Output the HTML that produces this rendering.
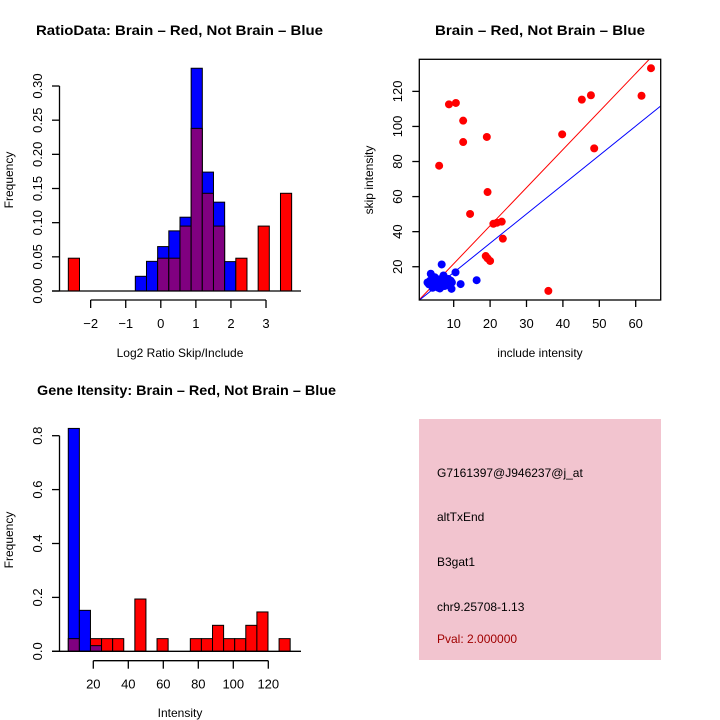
<!DOCTYPE html>
<html><head><meta charset="utf-8"><style>
html,body{margin:0;padding:0;background:#fff;}
svg{display:block;font-family:"Liberation Sans",sans-serif;}
</style></head><body>
<svg id="c" width="720" height="720" viewBox="0 0 720 720">
<rect x="0" y="0" width="720" height="720" fill="#fff"/>
<g id="p1"></g>
<g id="p2"></g>
<g id="p3"></g>
<g id="p4">
<rect x="419" y="419" width="242" height="241" fill="#f2c4cf"/>
<text x="437" y="477" font-size="12">G7161397@J946237@j_at</text>
<text x="437" y="521" font-size="12">altTxEnd</text>
<text x="437" y="566" font-size="12">B3gat1</text>
<text x="437" y="611" font-size="12">chr9.25708-1.13</text>
<text x="437" y="643" font-size="12" fill="#a00000">Pval: 2.000000</text>
</g>
</svg>
<script>
// ---------- data ----------
const ratioBinStart = -2.637;
const ratioBinWidth = 0.3184;
const ratioRed  = [0.048,0,0,0,0,0,0,0,0.048,0.048,0.095,0.238,0.143,0.095,0,0.048,0,0.095,0,0.143];
const ratioBlue = [0,0,0,0,0,0,0.0215,0.0434,0.065,0.088,0.108,0.326,0.174,0.13,0.043,0,0,0,0,0];
const ratioXTicks = [-2,-1,0,1,2,3];
const ratioYTicks = [0,0.05,0.10,0.15,0.20,0.25,0.30];
const ratioYLabels = ["0.00","0.05","0.10","0.15","0.20","0.25","0.30"];
const redX = [64.2,61.6,47.7,45.2,39.8,48.6,8.7,10.6,12.6,12.6,19.1,6.0,19.3,14.5,20.9,21.9,23.2,23.5,18.8,19.3,20.0,36.0];
const redY = [133.2,117.5,117.8,115.3,95.5,87.5,112.6,113.4,103.3,91.1,94,77.6,62.6,50.1,44.5,45.1,45.7,36,26.1,24.8,23.3,6.2];
const blueX = [3.7,6.7,10.5,11.9,16.3,9.4,6.2,3.0,7.2,5.1,4.0,4.5,5.5,6.0,7.0,7.8,8.5,9.0,9.5,4.2,5.0,6.5,7.5,8.0,3.5,4.8,5.8,6.8,7.3,8.8,9.2,3.2,4.4,5.3,6.3,7.7,8.3,2.8,5.6,6.9];
const blueY = [16.0,21.3,16.8,10.1,12.3,7.4,7.6,11,15,13.3,10,12,9,11,12,10,13,9,11,8,10,13,9,11,12,14,8,10,14,10,12,10,9,11,8,12,10,11,12,9];
const redSlope = 2.17;
const blueSlope = 1.67;
const scatXTicks = [10,20,30,40,50,60];
const scatYTicks = [20,40,60,80,100,120];
const intBinStart = 5.7;
const intBinWidth = 6.34;
const intRed  = [0.047,0,0.047,0.047,0.047,0,0.194,0,0.047,0,0,0.047,0.047,0.0964,0.047,0.047,0.0964,0.146,0,0.047];
const intBlue = [0.827,0.152,0.021,0,0,0,0,0,0,0,0,0,0,0,0,0,0,0,0,0];
const intXTicks = [20,40,60,80,100,120];
const intYTicks = [0,0.2,0.4,0.6,0.8];
const intYLabels = ["0.0","0.2","0.4","0.6","0.8"];

const NS="http://www.w3.org/2000/svg";
function mk(parent,tag,attrs,txt){const e=document.createElementNS(NS,tag);for(const k in attrs)e.setAttribute(k,attrs[k]);if(txt!==undefined)e.textContent=txt;parent.appendChild(e);return e;}

function histogram(g,opt){
  const sx=v=>opt.x0+v*opt.kx, sy=v=>opt.y0-v*opt.ky;
  const n=opt.red.length;
  for(let i=0;i<n;i++){
    const a=opt.start+i*opt.width, b=a+opt.width;
    const r=opt.red[i], bl=opt.blue[i];
    const x=sx(a), w=sx(b)-sx(a);
    const hi=Math.max(r,bl), lo=Math.min(r,bl);
    if(hi<=0) continue;
    const col = bl>=r ? "#0000ff" : "#ff0000";
    const e=mk(g,"rect",{x:x,y:sy(hi),width:w,height:sy(0)-sy(hi),fill:col,stroke:"#000","stroke-width":1});
    
    
    if(lo>0){
      const p=mk(g,"rect",{x:x,y:sy(lo),width:w,height:sy(0)-sy(lo),fill:"#800080",stroke:"#000","stroke-width":1});
      
      
    }
  }
  const bl=mk(g,"line",{x1:52,y1:opt.y0,x2:301,y2:opt.y0,stroke:"#000","stroke-width":1.3});
  
  
  const yt=opt.yTicks;
  const ya=mk(g,"line",{x1:59.5,y1:sy(yt[0]),x2:59.5,y2:sy(yt[yt.length-1]),stroke:"#000","stroke-width":1.3});
  
  
  yt.forEach((v,i)=>{
    mk(g,"line",{x1:52,y1:sy(v),x2:59.5,y2:sy(v),stroke:"#000","stroke-width":1.3});
    const t=mk(g,"text",{x:42,y:sy(v),"font-size":13,"text-anchor":"middle",transform:`rotate(-90 42 ${sy(v)})`},opt.yLabels[i]);
    
    
  });
  const xt=opt.xTicks;
  const xa=mk(g,"line",{x1:sx(xt[0]),y1:opt.xAxisY,x2:sx(xt[xt.length-1]),y2:opt.xAxisY,stroke:"#000","stroke-width":1.3});
  
  
  xt.forEach(v=>{
    mk(g,"line",{x1:sx(v),y1:opt.xAxisY,x2:sx(v),y2:opt.xAxisY+8,stroke:"#000","stroke-width":1.3});
    const t=mk(g,"text",{x:sx(v),y:opt.xAxisY+28,"font-size":13,"text-anchor":"middle"},v<0?"\u2212"+(-v):String(v));
    
    
  });
}

const g1=document.getElementById('p1');
histogram(g1,{x0:160.8,kx:35.07,y0:291,ky:683.3,start:ratioBinStart,width:ratioBinWidth,red:ratioRed,blue:ratioBlue,xTicks:ratioXTicks,yTicks:ratioYTicks,yLabels:ratioYLabels,xAxisY:300});
mk(g1,"text",{x:36,y:35,"font-size":14,"font-weight":"bold",textLength:287,lengthAdjust:"spacingAndGlyphs",},"RatioData: Brain \u2013 Red, Not Brain \u2013 Blue");
mk(g1,"text",{x:180,y:357,"font-size":12,"text-anchor":"middle",},"Log2 Ratio Skip/Include");
mk(g1,"text",{x:13,y:180,"font-size":12,"text-anchor":"middle",transform:"rotate(-90 13 180)",},"Frequency");

const g3=document.getElementById('p3');
histogram(g3,{x0:58.3,kx:1.75,y0:651.3,ky:269.5,start:intBinStart,width:intBinWidth,red:intRed,blue:intBlue,xTicks:intXTicks,yTicks:intYTicks,yLabels:intYLabels,xAxisY:660.7});
mk(g3,"text",{x:37,y:395,"font-size":14,"font-weight":"bold",textLength:299,lengthAdjust:"spacingAndGlyphs",},"Gene Itensity: Brain \u2013 Red, Not Brain \u2013 Blue");
mk(g3,"text",{x:180,y:717,"font-size":12,"text-anchor":"middle",},"Intensity");
mk(g3,"text",{x:13,y:540,"font-size":12,"text-anchor":"middle",transform:"rotate(-90 13 540)",},"Frequency");

const g2=document.getElementById('p2');
const X0=417.3,KX=3.64,Y0=301.8,KY=1.7535;
const px=v=>X0+v*KX, py=v=>Y0-v*KY;
const L=419.3,R=660.7,T=59.3,B=300;
mk(g2,"defs",{}).innerHTML='<clipPath id="sc"><rect x="419.3" y="59.3" width="241.4" height="240.7"/></clipPath>';
const lines=mk(g2,"g",{"clip-path":"url(#sc)"});
const xmin=(L-X0)/KX, xmax=(R-X0)/KX;
const rl=mk(lines,"line",{x1:px(xmin),y1:py(xmin*redSlope),x2:px(xmax),y2:py(xmax*redSlope),stroke:"#ff0000","stroke-width":1});


const bll=mk(lines,"line",{x1:px(xmin),y1:py(xmin*blueSlope),x2:px(xmax),y2:py(xmax*blueSlope),stroke:"#0000ff","stroke-width":1});


blueX.forEach((x,i)=>{
  const c=mk(lines,"circle",{cx:px(x),cy:py(blueY[i]),r:4,fill:"#0000ff"});
  
  
});
redX.forEach((x,i)=>{
  const c=mk(g2,"circle",{cx:px(x),cy:py(redY[i]),r:4,fill:"#ff0000"});
  
  
});
mk(g2,"rect",{x:L,y:T,width:R-L,height:B-T,fill:"none",stroke:"#000","stroke-width":1.3,});
scatXTicks.forEach(v=>{
  mk(g2,"line",{x1:px(v),y1:B,x2:px(v),y2:B+7,stroke:"#000","stroke-width":1.3});
  const t=mk(g2,"text",{x:px(v),y:B+28,"font-size":13,"text-anchor":"middle"},String(v));
  
  
});
scatYTicks.forEach(v=>{
  mk(g2,"line",{x1:L-7,y1:py(v),x2:L,y2:py(v),stroke:"#000","stroke-width":1.3});
  const t=mk(g2,"text",{x:402,y:py(v),"font-size":13,"text-anchor":"middle",transform:`rotate(-90 402 ${py(v)})`},String(v));
  
  
});
mk(g2,"text",{x:435,y:35,"font-size":14,"font-weight":"bold",textLength:210,lengthAdjust:"spacingAndGlyphs",},"Brain \u2013 Red, Not Brain \u2013 Blue");
mk(g2,"text",{x:540,y:357,"font-size":12,"text-anchor":"middle",},"include intensity");
mk(g2,"text",{x:373,y:180,"font-size":12,"text-anchor":"middle",transform:"rotate(-90 373 180)",},"skip intensity");
</script>
</body></html>
